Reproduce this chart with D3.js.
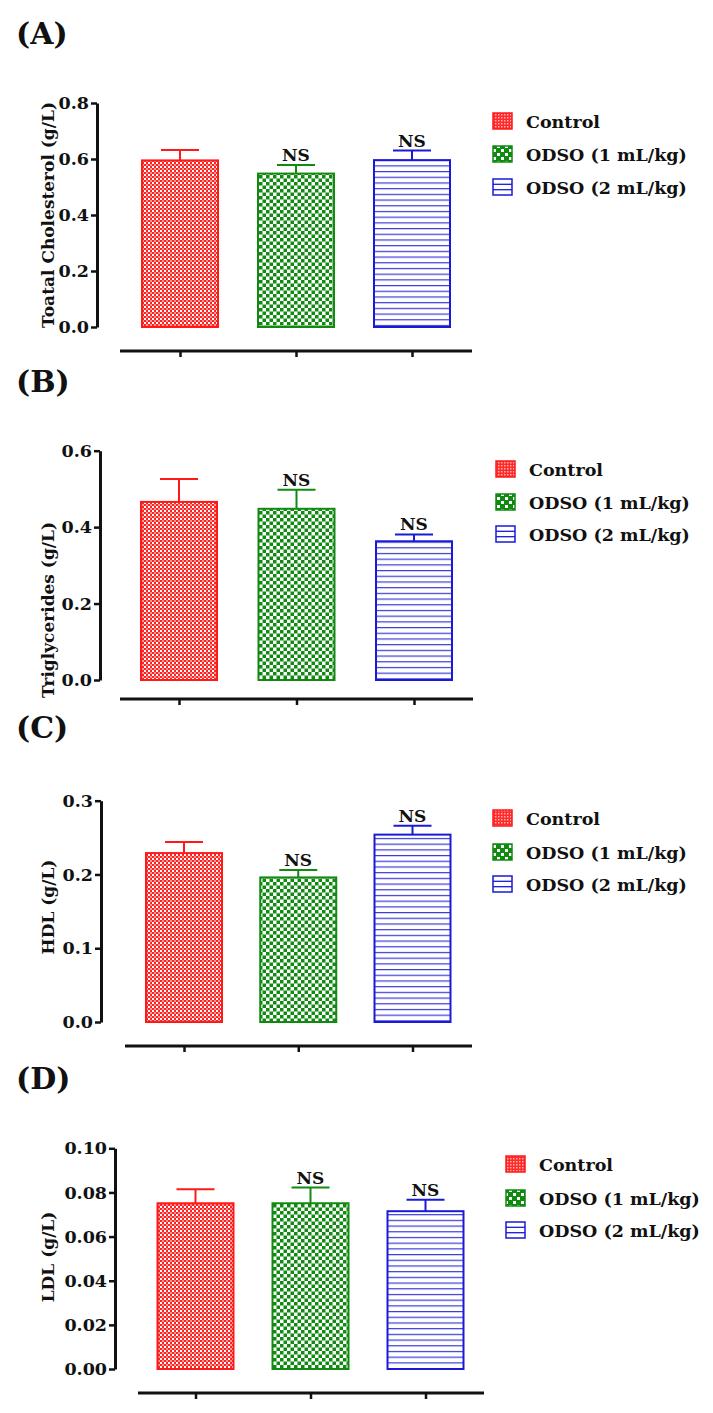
<!DOCTYPE html>
<html>
<head>
<meta charset="utf-8">
<script src="https://cdn.jsdelivr.net/npm/d3@7"></script>
<style>
  html, body { margin: 0; padding: 0; background: #fff; }
  svg { display: block; }
  text { font-family: "DejaVu Serif", "Liberation Serif", serif; font-weight: bold; fill: #111; }
</style>
</head>
<body>
<script>
// ---------------- DATA ----------------
const categories = ["Control", "ODSO (1 mL/kg)", "ODSO (2 mL/kg)"];
const significance = ["", "NS", "NS"];

const panelLabels = ["(A)", "(B)", "(C)", "(D)"];
const yTitles = ["Toatal Cholesterol (g/L)", "Triglycerides (g/L)", "HDL (g/L)", "LDL (g/L)"];

const cholesterolMean = [0.595, 0.548, 0.596];
const cholesterolSem  = [0.037, 0.031, 0.034];

const triglyceridesMean = [0.466, 0.448, 0.363];
const triglyceridesSem  = [0.060, 0.050, 0.018];

const hdlMean = [0.229, 0.196, 0.254];
const hdlSem  = [0.015, 0.010, 0.012];

const ldlMean = [0.0751, 0.0751, 0.0715];
const ldlSem  = [0.0063, 0.0071, 0.0052];

const cholesterolTicks   = ["0.0", "0.2", "0.4", "0.6", "0.8"];
const triglyceridesTicks = ["0.0", "0.2", "0.4", "0.6"];
const hdlTicks           = ["0.0", "0.1", "0.2", "0.3"];
const ldlTicks           = ["0.00", "0.02", "0.04", "0.06", "0.08", "0.10"];

// ---------------- LAYOUT (pixels) ----------------
const layouts = [
  { axisX: 97,  y0: 327,  yTop: 103,   xAxisY: 351,  xStart: 120, xEnd: 472, c0: 180,   c2: 412,   legX: 493, rows: [121, 154, 187],  labY: 44,   titleX: 54, titleY: 215 },
  { axisX: 100, y0: 680,  yTop: 450.7, xAxisY: 699,  xStart: 120, xEnd: 473, c0: 179,   c2: 414,   legX: 496, rows: [469, 502, 534],  labY: 392,  titleX: 54, titleY: 610 },
  { axisX: 101, y0: 1022, yTop: 800.7, xAxisY: 1046, xStart: 125, xEnd: 472, c0: 184,   c2: 412.5, legX: 493, rows: [818, 852, 884],  labY: 738,  titleX: 54, titleY: 907 },
  { axisX: 115, y0: 1369, yTop: 1148.3,xAxisY: 1393, xStart: 138, xEnd: 484, c0: 195.5, c2: 425.5, legX: 506, rows: [1164, 1198, 1230], labY: 1089, titleX: 54, titleY: 1257 }
];

const panels = [
  { mean: cholesterolMean,   sem: cholesterolSem,   ticks: cholesterolTicks },
  { mean: triglyceridesMean, sem: triglyceridesSem, ticks: triglyceridesTicks },
  { mean: hdlMean,           sem: hdlSem,           ticks: hdlTicks },
  { mean: ldlMean,           sem: ldlSem,           ticks: ldlTicks }
];

const colors = ["#ff1a1a", "#128a12", "#1a1ad6"];
const fills = ["url(#patRed)", "url(#patGreen)", "url(#patBlue)"];

const W = 713, H = 1413;
const svg = d3.select("body").append("svg").attr("width", W).attr("height", H);

// ---------------- PATTERNS ----------------
const defs = svg.append("defs");
// red: fine checkerboard
const pr = defs.append("pattern").attr("id", "patRed").attr("patternUnits", "userSpaceOnUse")
  .attr("width", 4).attr("height", 4);
pr.append("rect").attr("width", 4).attr("height", 4).attr("fill", "#ffffff");
pr.append("rect").attr("width", 2).attr("height", 2).attr("fill", "#ff2020");
pr.append("rect").attr("x", 2).attr("y", 2).attr("width", 2).attr("height", 2).attr("fill", "#ff2020");
pr.append("rect").attr("x", 2).attr("y", 0).attr("width", 2).attr("height", 2).attr("fill", "#ff9a9a");
// green: larger checkerboard
const pg = defs.append("pattern").attr("id", "patGreen").attr("patternUnits", "userSpaceOnUse")
  .attr("width", 7).attr("height", 7);
pg.append("rect").attr("width", 7).attr("height", 7).attr("fill", "#ffffff");
pg.append("rect").attr("width", 3.5).attr("height", 3.5).attr("fill", "#108a10");
pg.append("rect").attr("x", 3.5).attr("y", 3.5).attr("width", 3.5).attr("height", 3.5).attr("fill", "#108a10");
// blue: horizontal lines
const pb = defs.append("pattern").attr("id", "patBlue").attr("patternUnits", "userSpaceOnUse")
  .attr("width", 8).attr("height", 5.7);
pb.append("rect").attr("width", 8).attr("height", 5.7).attr("fill", "#ffffff");
pb.append("rect").attr("y", 0).attr("width", 8).attr("height", 1.2).attr("fill", "#3a3ad8");

// legend swatch patterns
const lr = defs.append("pattern").attr("id", "legRed").attr("patternUnits", "userSpaceOnUse")
  .attr("width", 3).attr("height", 3);
lr.append("rect").attr("width", 3).attr("height", 3).attr("fill", "#ff2a2a");
lr.append("rect").attr("width", 1.5).attr("height", 1.5).attr("fill", "#ffb0b0");
const lg = defs.append("pattern").attr("id", "legGreen").attr("patternUnits", "userSpaceOnUse")
  .attr("width", 8).attr("height", 8);
lg.append("rect").attr("width", 8).attr("height", 8).attr("fill", "#108a10");
lg.append("rect").attr("x", 1).attr("y", 1).attr("width", 3).attr("height", 3).attr("fill", "#ffffff");
lg.append("rect").attr("x", 5).attr("y", 5).attr("width", 3).attr("height", 3).attr("fill", "#ffffff");
const legFills = ["url(#legRed)", "url(#legGreen)", "#ffffff"];

// ---------------- DRAW ----------------
panels.forEach((p, i) => {
  const L = layouts[i];
  const g = svg.append("g");
  const yMax = +p.ticks[p.ticks.length - 1];
  const y = d3.scaleLinear().domain([0, yMax]).range([L.y0, L.yTop]);
  const x = d3.scalePoint().domain(categories).range([L.c0, L.c2]);
  const barW = 76;

  // panel label
  g.append("text").attr("x", 16).attr("y", L.labY).attr("font-size", 30).text(panelLabels[i]);

  // y axis
  const yAxis = d3.axisLeft(y).tickValues(p.ticks.map(Number))
    .tickFormat((d, k) => p.ticks[k]).tickSize(6).tickSizeOuter(0).tickPadding(2);
  const ya = g.append("g").attr("transform", `translate(${L.axisX},0)`).call(yAxis);
  ya.select(".domain").attr("stroke", "#111").attr("stroke-width", 3);
  ya.selectAll(".tick line").attr("stroke", "#111").attr("stroke-width", 2.5);
  ya.selectAll(".tick text").attr("font-size", 17.5).attr("font-family", "DejaVu Serif").attr("font-weight", "bold").attr("fill", "#111");

  // y title
  g.append("text")
    .attr("transform", `translate(${L.titleX},${L.titleY}) rotate(-90)`)
    .attr("text-anchor", "middle").attr("font-size", 17).text(yTitles[i]);

  // x axis
  const xAxis = d3.axisBottom(x).tickSize(6).tickSizeOuter(0).tickFormat("");
  const xa = g.append("g").attr("transform", `translate(0,${L.xAxisY})`).call(xAxis);
  xa.select(".domain").remove();
  xa.selectAll(".tick line").attr("stroke", "#111").attr("stroke-width", 2.5);
  xa.append("line").attr("x1", L.xStart).attr("x2", L.xEnd).attr("y1", 0).attr("y2", 0)
    .attr("stroke", "#111").attr("stroke-width", 3);

  // bars
  categories.forEach((c, k) => {
    const cx = x(c);
    const top = y(p.mean[k]);
    const errTop = y(p.mean[k] + p.sem[k]);
    g.append("line").attr("x1", cx).attr("x2", cx).attr("y1", top).attr("y2", errTop)
      .attr("stroke", colors[k]).attr("stroke-width", 2);
    g.append("line").attr("x1", cx - 19).attr("x2", cx + 19).attr("y1", errTop).attr("y2", errTop)
      .attr("stroke", colors[k]).attr("stroke-width", 2);
    g.append("rect").attr("x", cx - barW / 2).attr("y", top).attr("width", barW).attr("height", L.y0 - top)
      .attr("fill", fills[k]).attr("stroke", colors[k]).attr("stroke-width", 2);
    if (significance[k]) {
      g.append("text").attr("x", cx).attr("y", errTop - 4).attr("text-anchor", "middle")
        .attr("font-size", 17).text(significance[k]);
    }
  });

  // legend
  categories.forEach((c, k) => {
    const ry = L.rows[k];
    g.append("rect").attr("x", L.legX).attr("y", ry - 8).attr("width", 19).attr("height", 16)
      .attr("fill", legFills[k]).attr("stroke", colors[k]).attr("stroke-width", 1.5);
    if (k === 2) {
      [ry - 2.7, ry + 2.7].forEach(ly => {
        g.append("line").attr("x1", L.legX).attr("x2", L.legX + 19).attr("y1", ly).attr("y2", ly)
          .attr("stroke", colors[k]).attr("stroke-width", 1.3);
      });
    }
    g.append("text").attr("x", L.legX + 33).attr("y", ry + 6.5).attr("font-size", 17.5).text(c);
  });
});
</script>
</body>
</html>
